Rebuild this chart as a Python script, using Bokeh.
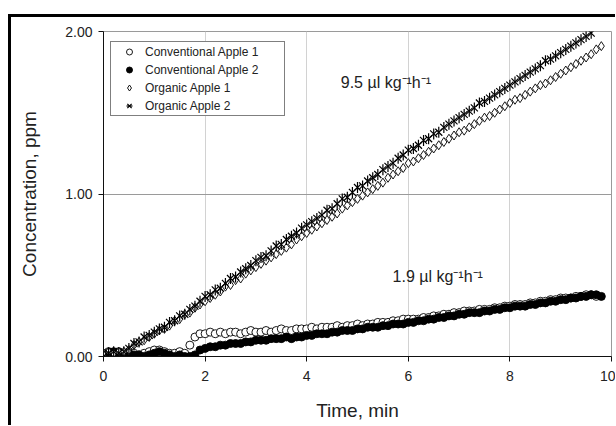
from bokeh.plotting import figure
from bokeh.models import Range1d, FixedTicker, Label, Legend, LegendItem, ColumnDataSource, Div, Spacer
from bokeh.layouts import column, row
from bokeh.embed import file_html
from bokeh.resources import INLINE
import math

time_min = [0.0, 0.1, 0.2, 0.3, 0.4, 0.5, 0.6, 0.7, 0.8, 0.9,
            1.0, 1.1, 1.2, 1.3, 1.4, 1.5, 1.6, 1.7, 1.8, 1.9,
            2.0, 2.1, 2.2, 2.3, 2.4, 2.5, 2.6, 2.7, 2.8, 2.9,
            3.0, 3.1, 3.2, 3.3, 3.4, 3.5, 3.6, 3.7, 3.8, 3.9,
            4.0, 4.1, 4.2, 4.3, 4.4, 4.5, 4.6, 4.7, 4.8, 4.9,
            5.0, 5.1, 5.2, 5.3, 5.4, 5.5, 5.6, 5.7, 5.8, 5.9,
            6.0, 6.1, 6.2, 6.3, 6.4, 6.5, 6.6, 6.7, 6.8, 6.9,
            7.0, 7.1, 7.2, 7.3, 7.4, 7.5, 7.6, 7.7, 7.8, 7.9,
            8.0, 8.1, 8.2, 8.3, 8.4, 8.5, 8.6, 8.7, 8.8, 8.9,
            9.0, 9.1, 9.2, 9.3, 9.4, 9.5, 9.6, 9.7, 9.8]

conventional_apple_1 = [0.02, 0.03, 0.02, 0.03, 0.02, 0.03, 0.02, 0.01, 0.02, 0.03,
                        0.04, 0.04, 0.03, 0.02, 0.02, 0.03, 0.02, 0.07, 0.12, 0.14,
                        0.14, 0.15, 0.14, 0.15, 0.14, 0.15, 0.15, 0.14, 0.15, 0.16,
                        0.15, 0.15, 0.16, 0.15, 0.16, 0.17, 0.16, 0.16, 0.17, 0.17,
                        0.17, 0.18, 0.17, 0.18, 0.18, 0.18, 0.19, 0.18, 0.19, 0.19,
                        0.20, 0.19, 0.20, 0.20, 0.21, 0.21, 0.21, 0.22, 0.22, 0.23,
                        0.23, 0.23, 0.23, 0.24, 0.24, 0.25, 0.25, 0.26, 0.26, 0.27,
                        0.27, 0.28, 0.28, 0.28, 0.29, 0.29, 0.29, 0.30, 0.30, 0.31,
                        0.31, 0.32, 0.32, 0.32, 0.33, 0.33, 0.34, 0.34, 0.35, 0.35,
                        0.36, 0.36, 0.36, 0.37, 0.37, 0.38, 0.38, 0.37]

conventional_apple_2 = [0.01, 0.02, 0.03, 0.02, 0.02, 0.02, 0.01, 0.01, 0.00, 0.01,
                        0.02, 0.03, 0.02, 0.01, 0.00, 0.01, 0.00, 0.00, 0.01, 0.04,
                        0.05, 0.06, 0.06, 0.07, 0.07, 0.08, 0.08, 0.08, 0.09, 0.09,
                        0.10, 0.10, 0.10, 0.11, 0.11, 0.11, 0.12, 0.11, 0.12, 0.12,
                        0.13, 0.13, 0.14, 0.14, 0.14, 0.15, 0.15, 0.16, 0.16, 0.16,
                        0.17, 0.17, 0.18, 0.18, 0.18, 0.19, 0.19, 0.20, 0.20, 0.20,
                        0.21, 0.21, 0.22, 0.22, 0.23, 0.23, 0.24, 0.24, 0.25, 0.25,
                        0.26, 0.26, 0.27, 0.27, 0.27, 0.28, 0.28, 0.29, 0.29, 0.30,
                        0.30, 0.31, 0.31, 0.31, 0.32, 0.32, 0.33, 0.33, 0.34, 0.34,
                        0.35, 0.35, 0.36, 0.36, 0.37, 0.37, 0.38, 0.38, 0.37]

organic_apple_1 = [0.01, 0.03, 0.02, 0.03, 0.03, 0.04, 0.07, 0.09, 0.10, 0.12,
                   0.14, 0.16, 0.17, 0.19, 0.22, 0.23, 0.26, 0.27, 0.30, 0.32,
                   0.34, 0.36, 0.38, 0.40, 0.43, 0.44, 0.47, 0.48, 0.51, 0.53,
                   0.55, 0.57, 0.59, 0.61, 0.63, 0.65, 0.67, 0.69, 0.72, 0.74,
                   0.76, 0.78, 0.80, 0.82, 0.84, 0.86, 0.88, 0.91, 0.93, 0.95,
                   0.97, 0.99, 1.01, 1.03, 1.05, 1.07, 1.10, 1.12, 1.14, 1.16,
                   1.19, 1.20, 1.22, 1.24, 1.26, 1.28, 1.30, 1.32, 1.34, 1.36,
                   1.38, 1.39, 1.41, 1.43, 1.45, 1.47, 1.48, 1.50, 1.52, 1.54,
                   1.56, 1.58, 1.59, 1.61, 1.63, 1.65, 1.67, 1.68, 1.70, 1.72,
                   1.74, 1.76, 1.78, 1.80, 1.82, 1.84, 1.86, 1.89, 1.91]

organic_apple_2 = [0.00, 0.02, 0.03, 0.02, 0.03, 0.05, 0.08, 0.09, 0.12, 0.13,
                   0.15, 0.17, 0.18, 0.21, 0.22, 0.25, 0.26, 0.29, 0.31, 0.34,
                   0.37, 0.38, 0.41, 0.42, 0.45, 0.48, 0.49, 0.52, 0.54, 0.56,
                   0.59, 0.61, 0.62, 0.65, 0.68, 0.69, 0.72, 0.74, 0.76, 0.79,
                   0.81, 0.83, 0.85, 0.87, 0.90, 0.91, 0.94, 0.97, 0.98, 1.01,
                   1.04, 1.05, 1.08, 1.10, 1.12, 1.15, 1.17, 1.19, 1.22, 1.24,
                   1.27, 1.28, 1.30, 1.33, 1.34, 1.37, 1.38, 1.41, 1.43, 1.45,
                   1.47, 1.49, 1.51, 1.53, 1.56, 1.57, 1.59, 1.61, 1.63, 1.65,
                   1.67, 1.69, 1.71, 1.73, 1.75, 1.77, 1.79, 1.82, 1.83, 1.85,
                   1.87, 1.89, 1.91, 1.93, 1.95, 1.97, 1.99]

series_names = ["Conventional Apple 1", "Conventional Apple 2", "Organic Apple 1", "Organic Apple 2"]
x_ticks = [0, 2, 4, 6, 8, 10]
y_ticks = [0, 1, 2]
y_tick_labels = ["0.00", "1.00", "2.00"]
rate_labels = ["9.5 µl kg⁻¹h⁻¹", "1.9 µl kg⁻¹h⁻¹"]

FONT = "Liberation Sans"
TXT = "#222222"

p = figure(width=604, height=408, x_range=Range1d(0, 10), y_range=Range1d(0, 2),
           output_backend="svg", toolbar_location=None, margin=0,
           min_border_left=92, min_border_right=4, min_border_top=14, min_border_bottom=69)
p.background_fill_color = "white"
p.border_fill_color = "white"
p.outline_line_color = "#9a9a9a"
p.outline_line_width = 1

p.xaxis.ticker = FixedTicker(ticks=x_ticks)
p.yaxis.ticker = FixedTicker(ticks=y_ticks)
p.yaxis.major_label_overrides = {t: l for t, l in zip(y_ticks, y_tick_labels)}
for ax in (p.xaxis[0], p.yaxis[0]):
    ax.axis_line_color = "#111111"
    ax.axis_line_width = 1
    ax.major_tick_line_color = "#111111"
    ax.major_tick_in = 0
    ax.major_tick_out = 5
    ax.minor_tick_line_color = None
    ax.major_label_text_font = FONT
    ax.major_label_text_font_size = "14px"
    ax.major_label_text_color = TXT
    ax.axis_label_text_font = FONT
    ax.axis_label_text_font_size = "19px"
    ax.axis_label_text_font_style = "normal"
    ax.axis_label_text_color = TXT
p.xaxis.major_label_standoff = 9
p.yaxis.major_label_standoff = 6
p.xaxis.axis_label = "Time, min"
p.yaxis.axis_label = "Concentration, ppm"
p.xaxis.axis_label_standoff = 16
p.yaxis.axis_label_standoff = 22

p.xgrid.grid_line_color = "#d2d2d2"
p.ygrid.grid_line_color = "#9a9a9a"

src_c1 = ColumnDataSource(dict(t=time_min[:len(conventional_apple_1)], v=conventional_apple_1))
src_c2 = ColumnDataSource(dict(t=time_min[:len(conventional_apple_2)], v=conventional_apple_2))
src_o1 = ColumnDataSource(dict(t=time_min[:len(organic_apple_1)], v=organic_apple_1))
src_o2 = ColumnDataSource(dict(t=time_min[:len(organic_apple_2)], v=organic_apple_2))

r_c1 = p.scatter("t", "v", source=src_c1, marker="circle", size=8,
                 fill_color="white", line_color="black", line_width=0.9)
r_c2 = p.scatter("t", "v", source=src_c2, marker="circle", size=8,
                 fill_color="black", line_color="black", line_width=0.9)
r_o1 = p.scatter("t", "v", source=src_o1, marker="diamond", size=9,
                 fill_color="white", line_color="black", line_width=0.9)
r_o2a = p.scatter("t", "v", source=src_o2, marker="x", size=10,
                  line_color="black", line_width=1.2)
r_o2b = p.scatter("t", "v", source=src_o2, marker="dash", size=11, angle=math.pi / 2,
                  line_color="black", line_width=1.2)

legend = Legend(items=[
    LegendItem(label=series_names[0], renderers=[r_c1]),
    LegendItem(label=series_names[1], renderers=[r_c2]),
    LegendItem(label=series_names[2], renderers=[r_o1]),
    LegendItem(label=series_names[3], renderers=[r_o2a, r_o2b]),
], location=(7, 240))
legend.label_text_font = FONT
legend.label_text_font_size = "12px"
legend.label_text_color = TXT
legend.label_height = 15
legend.glyph_height = 15
legend.glyph_width = 32
legend.label_standoff = -7
legend.label_width = 137
legend.padding = 2
legend.spacing = 3
legend.margin = 0
legend.border_line_color = "black"
legend.border_line_width = 1
legend.background_fill_color = "white"
legend.background_fill_alpha = 1
p.add_layout(legend, "center")

p.add_layout(Label(x=4.67, y=1.686, text=rate_labels[0], text_font=FONT,
                   text_font_size="16px", text_color=TXT, text_baseline="middle"))
p.add_layout(Label(x=5.69, y=0.492, text=rate_labels[1], text_font=FONT,
                   text_font_size="16px", text_color=TXT, text_baseline="middle"))

top_line = Div(text="", width=607, height=3, margin=0, styles={"background-color": "black"})
left_line = Div(text="", width=3, height=408, margin=0, styles={"background-color": "black"})
layout = column(
    Spacer(width=615, height=14, margin=0),
    row(Spacer(width=8, height=3, margin=0), top_line, margin=0, spacing=0),
    row(Spacer(width=8, height=408, margin=0), left_line, p, margin=0, spacing=0),
    margin=0, spacing=0,
)

open("out.html", "w").write(file_html(layout, INLINE))
